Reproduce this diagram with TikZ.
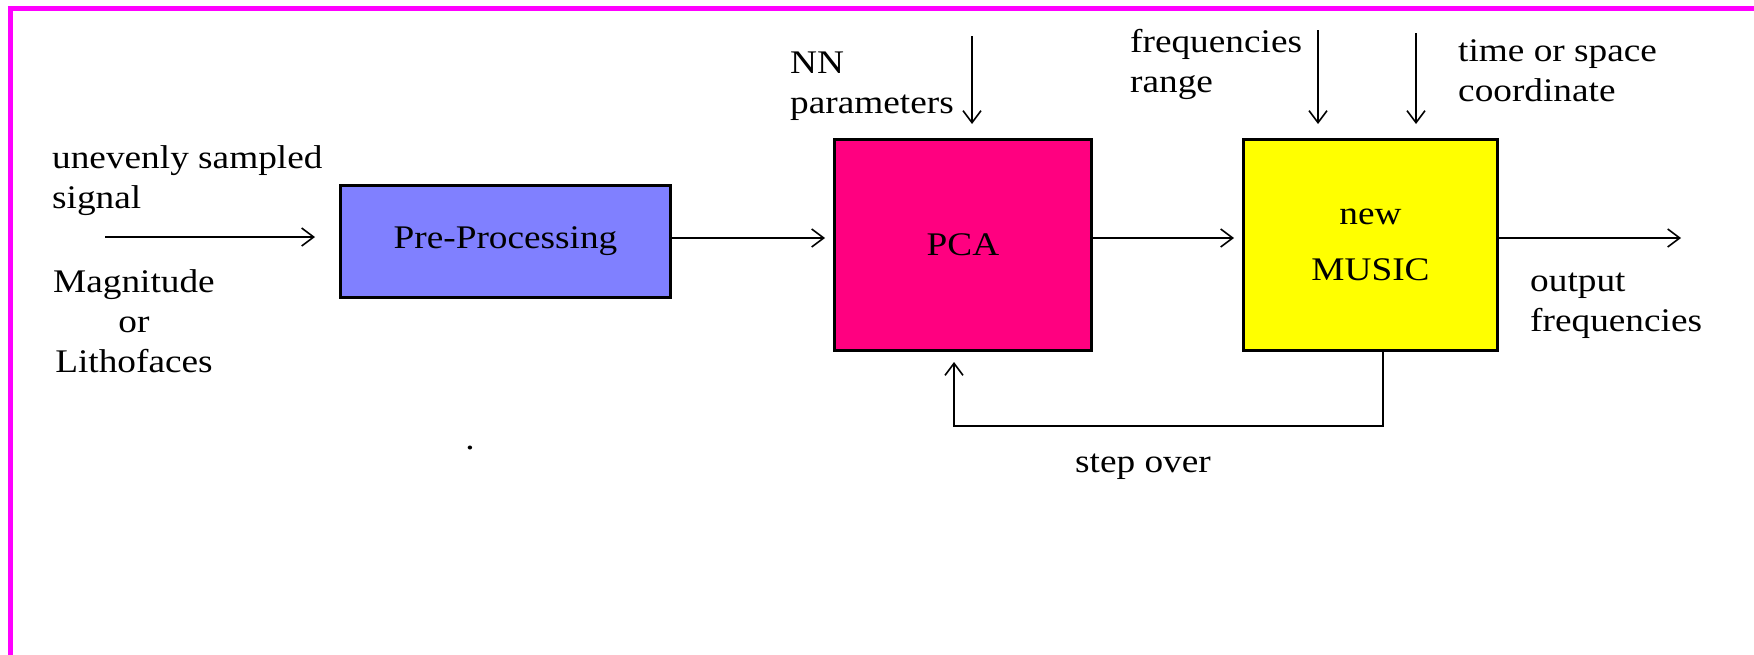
\documentclass[tikz,border=0pt]{standalone}
\usepackage{fontspec}
\setmainfont{Liberation Serif}[FakeStretch=1.13]
\usetikzlibrary{positioning,arrows.meta}

\definecolor{framemag}{RGB}{255,0,255}
\definecolor{preblue}{RGB}{128,128,255}
\definecolor{pcapink}{RGB}{255,0,128}
\definecolor{musicyellow}{RGB}{255,255,0}

\begin{document}
\begin{tikzpicture}[x=1pt,y=-1pt,on grid,
    every node/.style={font=\fontsize{33}{40}\selectfont,inner sep=0pt},
    block/.style={draw,line width=3pt,minimum height=211pt},
    lbl/.style={anchor=base west,align=left},
    flow/.style={line width=2pt,-{Straight Barb[length=12pt,width=18pt,line width=1.6pt]}},
    feed/.style={flow,shorten >=8pt},
    inp/.style={flow,shorten >=14pt}]
  \useasboundingbox (0,0) rectangle (1754,654);
  \draw[framemag,line width=5pt] (1760,8.5) -- (10.5,8.5) -- (10.5,660);

  % blocks
  \node[block,fill=preblue,minimum width=330pt,minimum height=112pt] (pre) at (505.5,241.5) {Pre-Processing};
  \node[block,fill=pcapink,minimum width=257pt,yshift=-3.5pt] (pca) [right=457.5pt of pre] {PCA};
  \node[block,fill=musicyellow,minimum width=254pt,align=center] (music) [right=407.5pt of pca] {new\\[16pt]MUSIC};

  % free ends
  \coordinate (mid) at (0,238);
  \coordinate (sig) at (105,237);
  \coordinate (out) at (1681,238);
  \coordinate (nn) at (972,36);
  \coordinate (fr) at (1318,30);
  \coordinate (ts) at (1416,33);
  \coordinate (fbr) at (1383,426);
  \coordinate (fbl) at (954,426);

  \draw[flow,shorten >=24pt] (sig) -- (pre.west |- sig);
  \draw[feed] (pre.east |- mid) -- (pca.west |- mid);
  \draw[feed] (pca.east |- mid) -- (music.west |- mid);
  \draw[flow] (music.east |- mid) -- (out);
  \draw[inp] (nn) -- (nn |- pca.north);
  \draw[inp] (fr) -- (fr |- music.north);
  \draw[inp] (ts) -- (ts |- music.north);
  \draw[flow,shorten >=10pt] (fbr |- music.south) -- (fbr) -- (fbl) -- (fbl |- pca.south);

  % labels (base = last line)
  \node[lbl] (sigtxt) at (52,208) {unevenly sampled\\signal};
  \node[anchor=base,align=center] (magtxt) at (134,372) {Magnitude\\or\\Lithofaces};
  \node[lbl] (nntxt) at (790,113) {NN\\parameters};
  \node[lbl] (frtxt) at (1130,92) {frequencies\\range};
  \node[lbl] (tstxt) at (1458,101) {time or space\\coordinate};
  \node[lbl] (outtxt) at (1530,331) {output\\frequencies};
  \node[anchor=base] (steptxt) at (1143,472) {step over};
  \node[anchor=base] (dot) at (470,449) {.};
\end{tikzpicture}
\end{document}
